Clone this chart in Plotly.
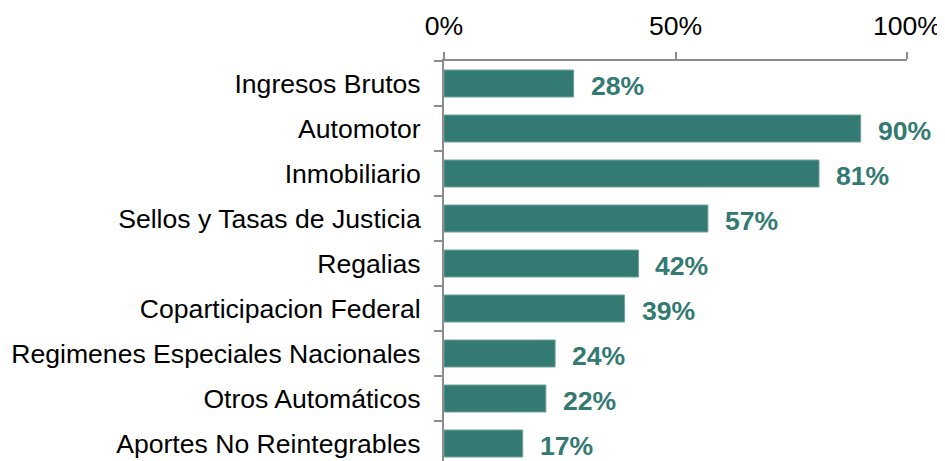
import plotly.graph_objects as go

categories = ["Ingresos Brutos", "Automotor", "Inmobiliario", "Sellos y Tasas de Justicia",
              "Regalias", "Coparticipacion Federal", "Regimenes Especiales Nacionales",
              "Otros Automáticos", "Aportes No Reintegrables"]
values = [0.28, 0.90, 0.81, 0.57, 0.42, 0.39, 0.24, 0.22, 0.17]
tick_vals = [0, 0.5, 1.0]
tick_text = ["0%", "50%", "100%"]

bar_color = "#337a72"
axis_color = "#8c8c8c"
font_family = "Liberation Sans, Arial, sans-serif"
fs = 26.6

fig = go.Figure()
fig.add_trace(go.Bar(
    x=values, y=categories, orientation="h", width=0.6,
    marker=dict(color=bar_color, line=dict(color="#6fa39c", width=1)),
    hoverinfo="skip",
))

for v, c in zip(values, categories):
    fig.add_annotation(x=v, y=c, text=f"<b>{round(v*100)}%</b>", showarrow=False,
                       xanchor="left", xshift=15, yshift=-2,
                       font=dict(family=font_family, size=fs, color=bar_color))

n = len(categories)
# page body has an 8px margin; figure is sized/offset to compensate
fig.update_layout(
    width=937, height=453,
    margin=dict(l=436, r=38, t=53, b=0),
    paper_bgcolor="white", plot_bgcolor="white",
    showlegend=False,
    font=dict(family=font_family, size=fs, color="#000000"),
    xaxis=dict(range=[0, 1.0], side="top", tickvals=tick_vals, ticktext=tick_text,
               showgrid=False, zeroline=False, showline=True, linecolor=axis_color,
               linewidth=2, ticks="outside", ticklen=7, tickcolor=axis_color, tickwidth=2,
               ticklabelstandoff=6, fixedrange=True, automargin=False),
    yaxis=dict(range=[n - 0.5 - (n * 45 - 400) / 45, -0.5], type="category",
               categoryorder="array", categoryarray=categories,
               showgrid=False, zeroline=False, showline=True, linecolor=axis_color,
               linewidth=2, ticks="outside", ticklen=8, tickcolor=axis_color, tickwidth=2,
               tickson="boundaries", ticklabelstandoff=16, fixedrange=True, automargin=False),
)

fig.write_html("out.html")
